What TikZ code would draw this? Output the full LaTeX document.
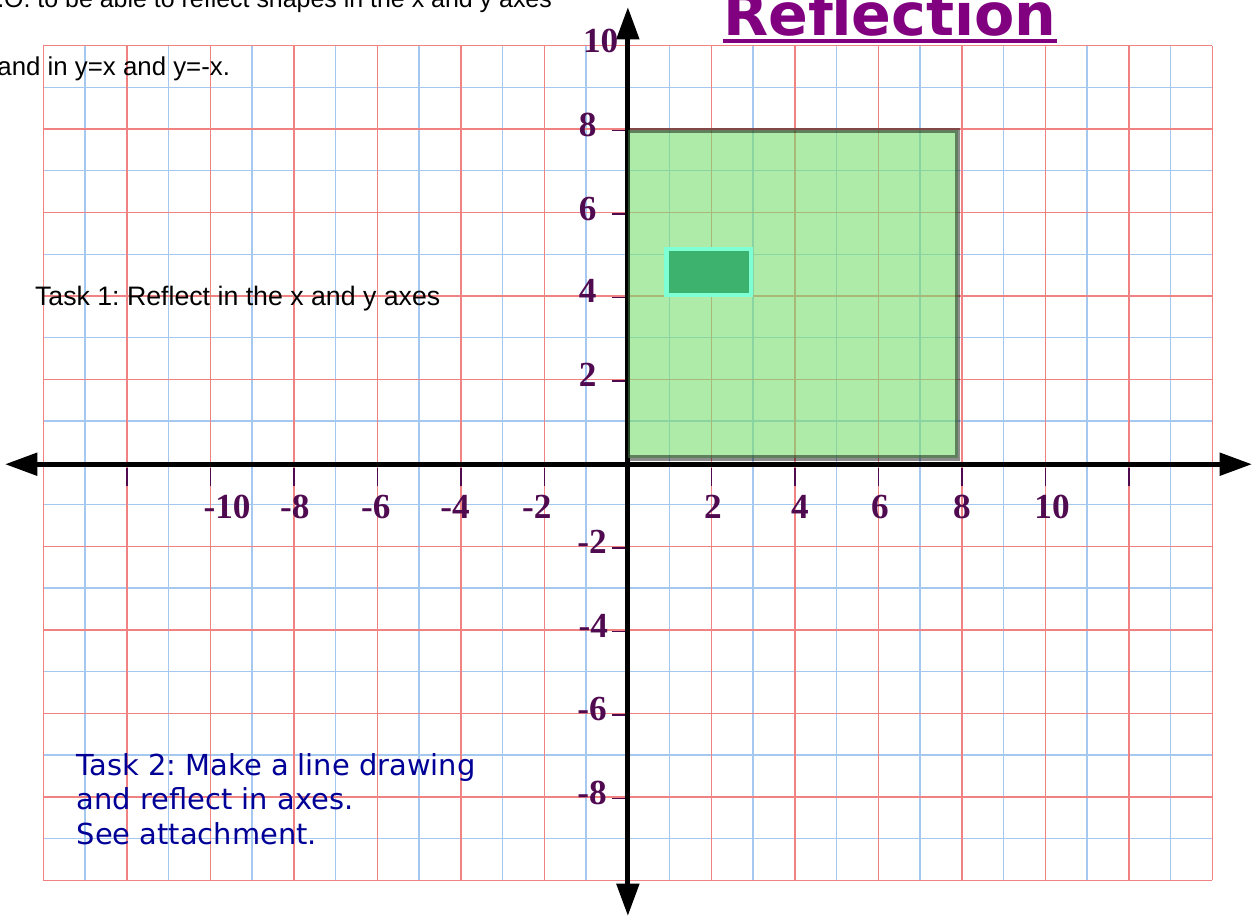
\documentclass[tikz,border=0pt]{standalone}
\usepackage{fontspec}
\setmainfont{Liberation Sans}
\newfontfamily\numfont{Liberation Serif}
\newfontfamily\taskfont{DejaVu Sans}
\usetikzlibrary{arrows.meta, positioning}
\frenchspacing

\definecolor{gridred}{RGB}{240,130,130}
\definecolor{gridblue}{RGB}{165,200,240}
\definecolor{numcol}{RGB}{80,10,80}
\definecolor{titlecol}{RGB}{128,0,128}
\definecolor{taskblue}{RGB}{0,0,150}
\definecolor{sqgreen}{RGB}{120,220,110}
\definecolor{rectfill}{RGB}{60,178,110}
\definecolor{rectedge}{RGB}{127,255,212}

\begin{document}
\begin{tikzpicture}[
  every node/.style={inner sep=0pt, outer sep=0pt},
  redline/.style={gridred, line width=1pt},
  blueline/.style={gridblue, line width=1pt},
  axis/.style={line width=3.4pt, {Triangle[length=22pt,width=15pt]}-{Triangle[length=22pt,width=15pt]}},
  tick/.style={numcol, line width=1pt},
  num/.style={font=\numfont\bfseries\fontsize{24}{28}\selectfont, text=numcol, anchor=base},
  note/.style={font=\fontsize{17.6}{21}\selectfont, anchor=base west},
  title/.style={font=\taskfont\bfseries\fontsize{40}{48}\selectfont, text=titlecol, anchor=base},
  task2/.style={font=\taskfont\fontsize{19.7}{23.3}\selectfont, text=taskblue, align=left, anchor=base west}
]
\useasboundingbox (-15.04,-10.90) rectangle (15.07,11.09);

%% grid paper
\foreach \x in {-13,-11,...,13}
  \draw[blueline] (\x,-10) -- (\x,10);
\foreach \y in {-9,-7,...,9}
  \draw[blueline] (-14,\y) -- (14,\y);
\foreach \x in {-14,-12,...,14}
  \draw[redline] (\x,-10) -- (\x,10);
\foreach \y in {-10,-8,...,10}
  \draw[redline] (-14,\y) -- (14,\y);

%% axes
\coordinate (xmin) at (-14.92,-0.03);
\coordinate (xmax) at (14.95,-0.03);
\coordinate (ymin) at (0,-10.85);
\coordinate (ymax) at (0,10.92);
\draw[axis] (xmin) -- (xmax);
\draw[axis] (ymin) -- (ymax);

%% ticks
\foreach \x in {-12,-10,...,-2,2,4,...,12}
  \draw[tick] (\x,-0.12) -- (\x,-0.55);
\foreach \y in {-8,-6,-4,-2,2,4,6,8}
  \draw[tick] (-0.38,\y-0.04) -- (-0.08,\y-0.04);

%% numbers
\foreach \n/\t/\x in {m10/-10/-9.6, m8/-8/-7.98, m6/-6/-6.04, m4/-4/-4.14, m2/-2/-2.18,
                      p2/2/2.04, p4/4/4.12, p6/6/6.04, p8/8/8.0, p10/10/10.16}
  \node[num] (x\n) at (\x,-1.32) {\t};
\foreach \n/\t/\x/\y in {p10/10/-0.65/9.84, p8/8/-0.96/7.83, p6/6/-0.96/5.8, p4/4/-0.96/3.84,
                         p2/2/-0.96/1.82, m2/-2/-0.86/-2.16, m4/-4/-0.83/-4.17,
                         m6/-6/-0.86/-6.18, m8/-8/-0.86/-8.17}
  \node[num] (y\n) at (\x,\y) {\t};

%% shapes
\draw[fill=sqgreen, fill opacity=0.6, draw=black, draw opacity=0.45, line width=3.5pt]
  (0,0.12) rectangle (7.9,7.97);
\draw[fill=rectfill, draw=rectedge, line width=3pt] (0.93,4.03) rectangle (2.95,5.13);

%% texts
\node[title] (title) at (6.28,10.23) {Reflection};
\draw[titlecol, line width=2.8pt] ([yshift=-3.6pt]title.base west) -- ([yshift=-3.6pt]title.base east);
\node[note, anchor=base east, font=\fontsize{17}{21}\selectfont] (lo) at (-1.82,10.9) {L.O. to be able to reflect shapes in the x and y axes};
\node[note, anchor=base east] (lo2) at (-9.53,9.29) {and in y=x and y=-x.};
\node[note, font=\fontsize{18.2}{21}\selectfont] (task1) at (-14.2,3.78) {Task 1: Reflect in the x and y axes};
\node[task2] (task2) at (-13.2,-9.13) {Task 2: Make a line drawing\\and reflect in axes.\\See attachment.};
\end{tikzpicture}
\end{document}
